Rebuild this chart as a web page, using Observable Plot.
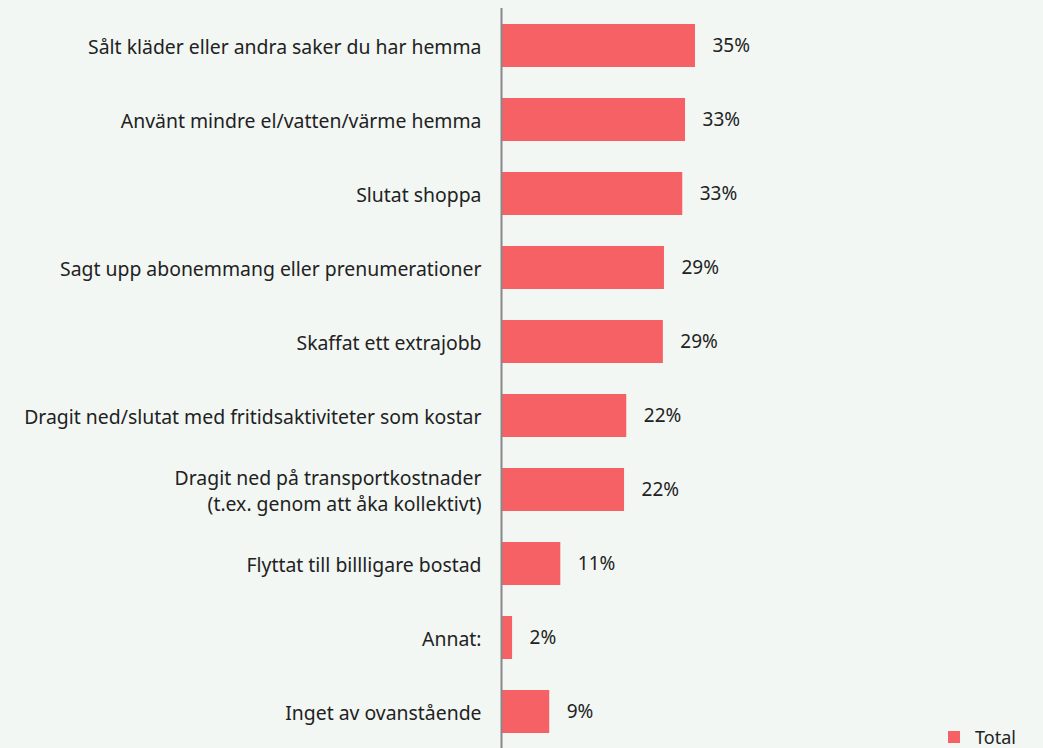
<!DOCTYPE html>
<html>
<head>
<meta charset="utf-8">
<script src="https://cdn.jsdelivr.net/npm/d3@7"></script>
<script src="https://cdn.jsdelivr.net/npm/@observablehq/plot@0.6"></script>
<style>
  html, body { margin: 0; padding: 0; background: #f2f7f4; }
  #wrap { position: relative; width: 1043px; height: 748px; overflow: hidden; font-family: "Noto Sans", sans-serif; }
  #legend { position: absolute; left: 948px; top: 727px; height: 20px; line-height: 20px; display: flex; align-items: center; font-size: 18px; color: #222; }
  #legend .sw { width: 12px; height: 12px; background: #f56165; margin-right: 15px; }
</style>
</head>
<body>
<div id="wrap">
  <div id="chart"></div>
  <div id="legend"><span class="sw"></span><span>Total</span></div>
</div>
<script>
const categories = [
  "Sålt kläder eller andra saker du har hemma",
  "Använt mindre el/vatten/värme hemma",
  "Slutat shoppa",
  "Sagt upp abonemmang eller prenumerationer",
  "Skaffat ett extrajobb",
  "Dragit ned/slutat med fritidsaktiviteter som kostar",
  "Dragit ned på transportkostnader\n(t.ex. genom att åka kollektivt)",
  "Flyttat till billligare bostad",
  "Annat:",
  "Inget av ovanstående"
];
const values = [35.0, 33.2, 32.7, 29.4, 29.2, 22.6, 22.2, 10.7, 2.0, 8.7];
const labels = ["35%", "33%", "33%", "29%", "29%", "22%", "22%", "11%", "2%", "9%"];

const data = categories.map((c, i) => ({ cat: c, value: values[i], label: labels[i] }));

const chart = Plot.plot({
  width: 1043,
  height: 748,
  marginLeft: 501,
  marginRight: 348,
  marginTop: 0,
  marginBottom: 0,
  style: { background: "transparent", fontFamily: "Noto Sans, sans-serif", fontSize: "19px", color: "#222" },
  x: { domain: [0, 35], axis: null },
  y: { domain: categories, paddingInner: 0.415, paddingOuter: 0.2075, range: [7.4, 750.2], label: null },
  marks: [
    Plot.barX(data, { x: "value", y: "cat", fill: "#f56165" }),
    Plot.text(data, { x: "value", y: "cat", text: "label", dx: 17, textAnchor: "start", fontSize: 19, fill: "#222" }),
    Plot.axisY({ tickSize: 0, tickPadding: 20, fontSize: 19.4, lineHeight: 1.35, fill: "#222", label: null }),
    Plot.ruleX([0], { stroke: "#888", strokeWidth: 2, insetTop: 8 })
  ]
});
document.getElementById("chart").appendChild(chart);
</script>
</body>
</html>
